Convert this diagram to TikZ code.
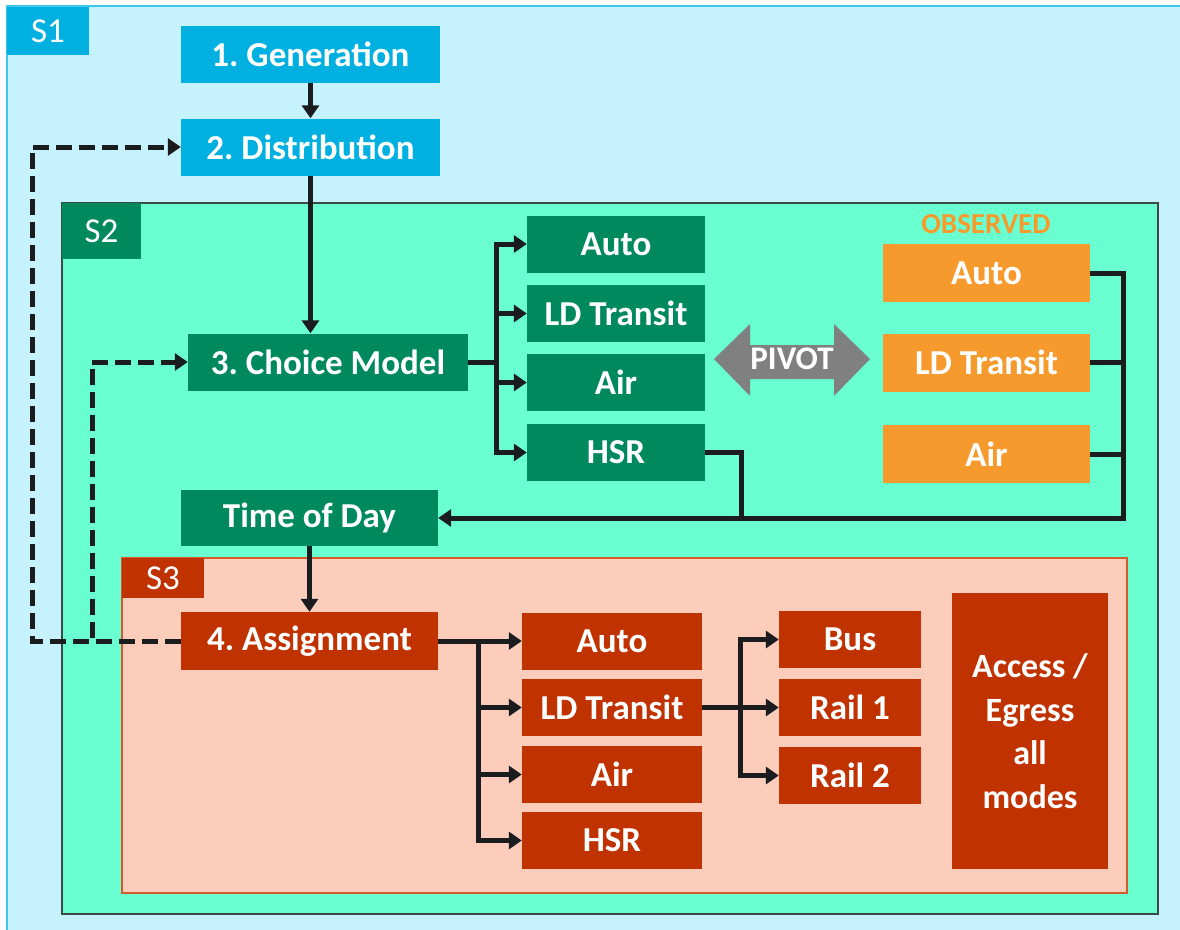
\documentclass[tikz,border=0pt]{standalone}
\usepackage{fontspec}
\setmainfont{Carlito}
\usetikzlibrary{arrows.meta}
\frenchspacing
\definecolor{sonebg}{HTML}{C6F2FD}
\definecolor{soneln}{HTML}{3EC6EE}
\definecolor{cyanbox}{HTML}{00B0E0}
\definecolor{stwobg}{HTML}{6AFFD0}
\definecolor{stwoln}{HTML}{3A4A44}
\definecolor{greenbox}{HTML}{00895C}
\definecolor{orangebox}{HTML}{F79A2E}
\definecolor{sthreebg}{HTML}{FDCDBC}
\definecolor{sthreeln}{HTML}{D45A2A}
\definecolor{redbox}{HTML}{C03200}
\definecolor{pivotgray}{HTML}{808080}
\definecolor{linecol}{HTML}{1A1C1E}
\begin{document}
\begin{tikzpicture}[x=1pt,y=-1pt,
  box/.style={inner sep=0pt, text=white, align=center,
    font=\fontsize{35}{40}\selectfont\bfseries},
  cbox/.style={box, fill=cyanbox, minimum width=259pt, minimum height=57pt},
  gbox/.style={box, fill=greenbox},
  obox/.style={box, fill=orangebox, minimum width=207pt, minimum height=58pt},
  rbox/.style={box, fill=redbox},
  slabel/.style={inner sep=0pt, text=white, font=\fontsize{35}{40}\selectfont},
  conn/.style={draw=linecol, line width=5pt},
  arr/.style={conn, -{Triangle[length=13pt,width=17pt]}},
  dasharr/.style={arr, dash pattern=on 16pt off 7pt}]
\useasboundingbox (0,0) rectangle (1180,929);
% S1
\fill[sonebg] (7,6) rectangle (1185,935);
\draw[soneln, line width=2pt] (7,935) -- (7,6) -- (1185,6);
\node[slabel, fill=cyanbox, minimum width=82pt, minimum height=48pt] (s1) at (48,31) {S1};
% S2
\draw[stwoln, fill=stwobg, line width=1.5pt] (62,203) rectangle (1158,914);
\node[slabel, fill=greenbox, minimum width=79pt, minimum height=56pt] (s2) at (101.5,231) {S2};
% S3
\draw[sthreeln, fill=sthreebg, line width=1.2pt] (122,558) rectangle (1127,893);
\node[slabel, fill=redbox, minimum width=82pt, minimum height=40pt] (s3) at (163,578) {S3};

% S1 boxes
\node[cbox] (gen) at (310.5,54.5) {1. Generation};
\node[cbox] (dist) at (310.5,147) {2. Distribution};

% S2 boxes
\node[gbox, minimum width=280pt, minimum height=57pt] (choice) at (328,362) {3. Choice Model};
\node[gbox, minimum width=178pt, minimum height=57pt] (gauto) at (616,244) {Auto};
\node[gbox, minimum width=178pt, minimum height=57pt] (gld) at (616,313.5) {LD Transit};
\node[gbox, minimum width=178pt, minimum height=57pt] (gair) at (616,382.5) {Air};
\node[gbox, minimum width=178pt, minimum height=57pt] (ghsr) at (616,452.5) {HSR};
\node[text=orangebox, inner sep=0pt, font=\fontsize{29}{33}\selectfont\bfseries] (obs) at (986,224) {OBSERVED};
\node[obox] (oauto) at (986.5,273) {Auto};
\node[obox] (old) at (986.5,362.5) {LD Transit};
\node[obox] (oair) at (986.5,454) {Air};
\fill[pivotgray] (714,359) -- (750,324) -- (750,345) -- (834,345) -- (834,324) -- (870,359)
  -- (834,396) -- (834,379) -- (750,379) -- (750,396) -- cycle;
\node[box, font=\fontsize{33}{38}\selectfont\bfseries] (pivot) at (792,359) {PIVOT};
\node[gbox, minimum width=257pt, minimum height=56pt] (tod) at (309.5,518) {Time of Day};

% S3 boxes
\node[rbox, minimum width=257pt, minimum height=58pt] (asg) at (309.5,641) {4. Assignment};
\node[rbox, minimum width=180pt, minimum height=57pt] (rauto) at (612,641) {Auto};
\node[rbox, minimum width=180pt, minimum height=57pt] (rld) at (612,707.5) {LD Transit};
\node[rbox, minimum width=180pt, minimum height=57pt] (rair) at (612,774.5) {Air};
\node[rbox, minimum width=180pt, minimum height=57pt] (rhsr) at (612,840.5) {HSR};
\node[rbox, minimum width=142pt, minimum height=57pt] (bus) at (850,639.5) {Bus};
\node[rbox, minimum width=142pt, minimum height=57pt] (rail1) at (850,707.5) {Rail 1};
\node[rbox, minimum width=142pt, minimum height=57pt] (rail2) at (850,775.5) {Rail 2};
\node[rbox, minimum width=156pt, minimum height=276pt,
  font=\fontsize{34}{43.5}\selectfont\bfseries] (acc) at (1030,731) {Access /\\Egress\\all\\modes};

% branch points
\coordinate (cb) at (496,362);
\coordinate (rb) at (1123,518);
\coordinate (hb) at (741,518);
\coordinate (ab) at (478,641);
\coordinate (lb) at (740,707.5);
\coordinate (dA) at (32,0);
\coordinate (dB) at (92,0);

% connectors
\draw[arr] (gen) -- (dist);
\draw[arr] (dist) -- (choice.north -| dist.south);
\draw[arr] (choice.east) -- (cb) |- (gauto.west);
\draw[arr] (cb) |- (ghsr.west);
\draw[arr] (cb |- gld.west) -- (gld.west);
\draw[arr] (cb |- gair.west) -- (gair.west);
\draw[arr] (oauto.east) -| (rb) -- (tod.east);
\draw[conn] (old.east) -- (old.east -| rb);
\draw[conn] (oair.east) -- (oair.east -| rb);
\draw[conn] (ghsr.east) -| (hb);
\draw[arr] (tod) -- (asg);
\draw[arr] (asg.east) -- (rauto.west);
\draw[arr] (ab) |- (rhsr.west);
\draw[arr] (ab |- rld.west) -- (rld.west);
\draw[arr] (ab |- rair.west) -- (rair.west);
\draw[arr] (rld.east) -- (rail1.west);
\draw[arr] (lb) |- (bus.west);
\draw[arr] (lb) |- (rail2.west);
\draw[dasharr] (asg.west) -| (dA |- dist.west) -- (dist.west);
\draw[dasharr] (asg.west) -| (dB |- choice.west) -- (choice.west);
\end{tikzpicture}
\end{document}
